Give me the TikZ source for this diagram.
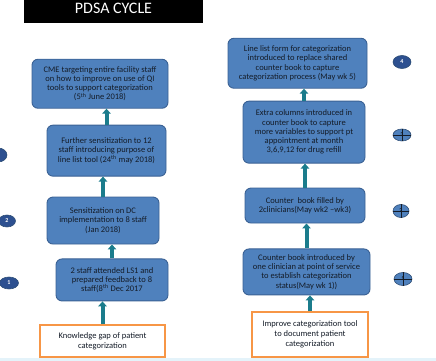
\documentclass[tikz,border=0pt]{standalone}
\usepackage{fontspec}
\setmainfont{Carlito}
\usepackage{tikz}
\usetikzlibrary{arrows.meta,positioning,shapes.geometric}
\definecolor{pblue}{HTML}{4F81BD}
\definecolor{pborder}{HTML}{3A6194}
\definecolor{ptext}{HTML}{141C28}
\definecolor{pgoal}{HTML}{F79646}
\definecolor{pteal}{HTML}{1B7C8C}
\definecolor{pbadge}{HTML}{2D5090}
\definecolor{pstrip}{HTML}{E4F3FA}
\tikzset{
  box/.style={draw=pborder, fill=pblue, rounded corners=6pt, align=center, text=ptext,
              font=\fontsize{8.5}{9.2}\selectfont, inner sep=2pt, line width=0.9pt},
  goal/.style={draw=pgoal, fill=white, align=center, text=ptext,
               font=\fontsize{8.5}{9.8}\selectfont, inner sep=2pt, line width=1.2pt},
  arr/.style={-{Triangle[width=8.5pt,length=5pt]}, draw=pteal, line width=4pt},
  badge/.style={ellipse, draw=pborder!80!black, fill=pbadge, text=white, inner sep=0pt,
                font=\fontsize{6}{6}\selectfont\bfseries, line width=0.6pt},
  xbadge/.style={badge, fill=pblue, text=ptext},
  title/.style={fill=black, text=white, font=\fontsize{16}{16}\selectfont,
                minimum width=179pt, minimum height=25pt, text depth=5pt},
}

\begin{document}
\begin{tikzpicture}
  \useasboundingbox (0,0) rectangle (436pt,361pt);
  \fill[pstrip] (0,0) rectangle (436pt,3pt);
  \node[title] (head) at (113.5pt,350pt) {PDSA CYCLE};

  % left column
  \node[goal, minimum width=125pt, minimum height=32pt] (gap) at (102.5pt,20pt)
    {Knowledge gap of patient\\categorization};
  \node[box, minimum width=112pt, minimum height=42pt, above=23pt of gap, xshift=9.5pt] (ls1)
    {2 staff attended LS1 and\\prepared feedback to 8\\staff(8\textsuperscript{th} Dec 2017};
  \node[box, minimum width=112pt, minimum height=47pt, above=14pt of ls1, xshift=-9pt] (dc)
    {Sensitization on DC\\implementation to 8 staff\\(Jan 2018)};
  \node[box, minimum width=119pt, minimum height=51pt, above=20pt of dc, xshift=3.5pt] (twelve)
    {Further sensitization to 12\\staff introducing purpose of\\line list tool (24\textsuperscript{th} may 2018)};
  \node[box, minimum width=136pt, minimum height=49pt, above=16pt of twelve, xshift=-6.5pt] (cme)
    {CME targeting entire facility staff\\on how to improve on use of QI\\tools to support categorization\\(5\textsuperscript{th} June 2018)};

  % right column
  \node[goal, minimum width=116pt, minimum height=45pt] (tool) at (310pt,26.5pt)
    {Improve categorization tool\\to document patient\\categorization};
  \node[box, minimum width=127pt, minimum height=46pt, above=16pt of tool, xshift=-3.5pt] (wk1)
    {Counter book introduced by\\one clinician at point of service\\to establish categorization\\status(May wk 1))};
  \node[box, minimum width=120pt, minimum height=35pt, above=25pt of wk1, xshift=-1.5pt] (wk2)
    {Counter\ \ book filled by\\2clinicians(May wk2 --wk3)};
  \node[box, minimum width=122pt, minimum height=62pt, above=24pt of wk2, xshift=-1pt] (cols)
    {Extra columns introduced in\\counter book to capture\\more variables to support pt\\appointment at month\\3,6,9,12 for drug refill};
  \node[box, minimum width=139pt, minimum height=50pt, above=12pt of cols, xshift=-6.5pt] (form)
    {Line list form for categorization\\introduced to replace shared\\counter book to capture\\categorization process (May wk 5)};

  % cycle badges
  \node[badge, minimum width=18pt, minimum height=14pt] (l3) at (-2pt,206pt) {};
  \node[badge, minimum width=17pt, minimum height=12pt] (l2) at (7pt,140pt) {2};
  \node[badge, minimum width=19pt, minimum height=12pt] (l1) at (9pt,78pt) {1};
  \node[badge, minimum width=18pt, minimum height=13pt] (r4) at (402pt,299pt) {4};
  \node[xbadge, minimum width=18pt, minimum height=12pt] (r3) at (402pt,226pt) {3};
  \node[xbadge, minimum width=16pt, minimum height=13pt] (r2) at (401pt,150pt) {2};
  \node[xbadge, minimum width=18pt, minimum height=13pt] (r1) at (403pt,82pt) {1};
  \foreach \b in {r3,r2,r1}
    \draw[ptext, line width=0.6pt] (\b.north) -- (\b.south) (\b.west) -- (\b.east);

  \draw[arr] (gap.north) -- (gap.north |- ls1.south);
  \draw[arr] (ls1.north) -- (ls1.north |- dc.south);
  \draw[arr] (dc.north) -- (dc.north |- twelve.south);
  \draw[arr] (twelve.north) -- (twelve.north |- cme.south);
  \draw[arr] (tool.north) -- (tool.north |- wk1.south);
  \draw[arr] (wk1.north) -- (wk1.north |- wk2.south);
  \draw[arr] (wk2.north) -- (wk2.north |- cols.south);
  \draw[arr] (cols.north) -- (cols.north |- form.south);
\end{tikzpicture}
\end{document}
